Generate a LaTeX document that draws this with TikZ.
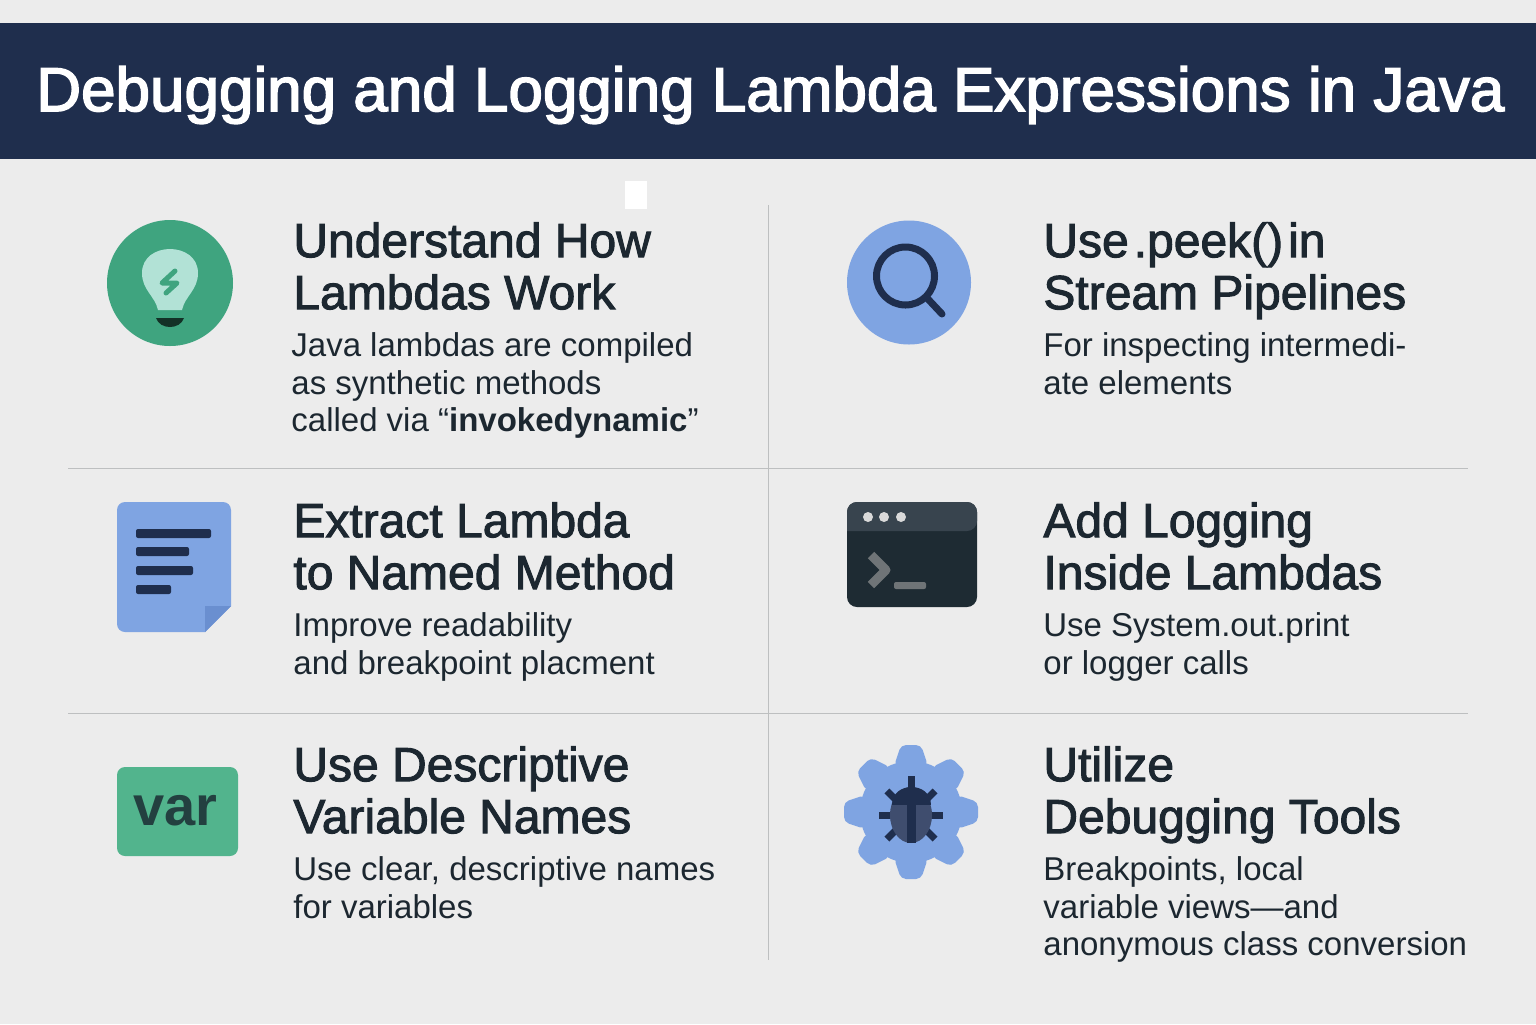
\documentclass[tikz,border=0pt]{standalone}
\usepackage{fontspec}
\setmainfont{Liberation Sans}
\newfontfamily\headfont[FakeBold=2]{Liberation Sans}
\newfontfamily\titlefont[FakeBold=2.5]{Liberation Sans}
\usetikzlibrary{positioning}
\definecolor{navy}{HTML}{1F2E4D}
\definecolor{paper}{HTML}{ECECEC}
\definecolor{ink}{HTML}{1C2730}
\definecolor{rule}{HTML}{BDBFC0}
\definecolor{iconblue}{HTML}{7FA4E2}
\definecolor{foldblue}{HTML}{6A8FD0}
\definecolor{icongreen}{HTML}{3FA47F}
\definecolor{tile}{HTML}{52B48D}
\definecolor{bulb}{HTML}{B2E2D6}
\definecolor{shell}{HTML}{1E2B33}
\definecolor{shellbar}{HTML}{38444E}
\definecolor{prompt}{HTML}{6F7477}
\definecolor{bugbody}{HTML}{3F4D6E}
\tikzstyle{heading} = [inner sep=0, anchor=north west, align=left, text=ink,
    execute at begin node=\strut, execute at end node=\strut,
    font=\headfont\fontsize{24}{26}\selectfont]
\tikzstyle{body} = [inner sep=0, anchor=north west, align=left, text=ink,
    execute at begin node=\strut, execute at end node=\strut,
    font=\fontsize{16.5}{18.75}\selectfont]
\tikzstyle{line} = [draw=rule, line width=0.5pt]
\tikzstyle{bar} = [fill=navy, rounded corners=1pt]
\begin{document}
\begin{tikzpicture}[x=0.5pt, y=-0.5pt]
    \useasboundingbox (0,0) rectangle (1536,1024);
    \fill [paper] (0,0) rectangle (1536,1024);
    \fill [navy] (0,23) rectangle (1536,159);
    \node [inner sep=0, text=white, font=\titlefont\fontsize{31}{32}\selectfont] (Title) at (770.5,95) {Debugging and Logging Lambda Expressions in Java};
    \fill [white] (625,181) rectangle (647,209);

    % rules
    \coordinate (RuleTop) at (768,205);
    \coordinate (RuleBottom) at (768,960);
    \coordinate (RuleA) at (68,468);
    \coordinate (RuleB) at (1468,468);
    \coordinate (RuleC) at (68,713);
    \coordinate (RuleD) at (1468,713);
    \path [line] (RuleTop) -- (RuleBottom);
    \path [line] (RuleA) -- (RuleB);
    \path [line] (RuleC) -- (RuleD);

    % left column
    \node [heading] (Understand) at (293,222) {Understand How\\Lambdas Work};
    \node [body, below=3.5pt of Understand.south west, anchor=north west, xshift=-1pt] (UnderstandText) {Java lambdas are compiled\\as synthetic methods\\called via “\textbf{invokedynamic}”};
    \node [heading] (Extract) at (293,502) {Extract Lambda\\to Named Method};
    \node [body, below=3.5pt of Extract.south west, anchor=north west] (ExtractText) {Improve readability\\and breakpoint placment};
    \node [heading] (Descriptive) at (293,746) {Use Descriptive\\Variable Names};
    \node [body, below=3.5pt of Descriptive.south west, anchor=north west] (DescriptiveText) {Use clear, descriptive names\\for variables};

    % right column
    \node [heading] (Peek) at (1043,222) {{\spaceskip=2.5pt Use .peek() in}\\Stream Pipelines};
    \node [body, below=3.5pt of Peek.south west, anchor=north west] (PeekText) {For inspecting intermedi-\\ate elements};
    \node [heading] (Logging) at (1043,502) {Add Logging\\Inside Lambdas};
    \node [body, below=3.5pt of Logging.south west, anchor=north west] (LoggingText) {Use System.out.print\\or logger calls};
    \node [heading] (Tools) at (1043,746) {Utilize\\Debugging Tools};
    \node [body, below=3.5pt of Tools.south west, anchor=north west] (ToolsText) {Breakpoints, local\\variable views—and\\anonymous class conversion};

    % bulb icon
    \fill [icongreen] (170,283) circle [radius=63];
    \fill [bulb] (158,310) .. controls (155,296) and (142,290) .. (142,273) .. controls (142,241) and (198,241) .. (198,273) .. controls (198,290) and (185,296) .. (182,310) -- cycle;
    \fill [black!70!icongreen] (156,318) -- (184,318) .. controls (180,330) and (160,330) .. (156,318) -- cycle;
    \draw [icongreen, line width=2.5pt, line join=round, line cap=round] (175,271) -- (162,283) -- (177,283) -- (166,293);

    % page icon
    \fill [iconblue] (231,606) -- (205,632) [rounded corners=4pt] -- (117,632) -- (117,502) -- (231,502) [sharp corners] -- cycle;
    \fill [foldblue] (205,606) -- (231,606) -- (205,632) -- cycle;
    \fill [bar] (136,529) rectangle (211,538);
    \fill [bar] (136,547) rectangle (189,556);
    \fill [bar] (136,566) rectangle (193,575);
    \fill [bar] (136,585) rectangle (171,594);

    % var icon
    \fill [tile, rounded corners=4pt] (117,767) rectangle (238,856);
    \node [inner sep=0, text=ink!80!icongreen, font=\bfseries\fontsize{28}{30}\selectfont] (Var) at (175.5,811) {var};

    % lens icon
    \fill [iconblue] (909,282.5) circle [radius=62];
    \draw [navy, line width=3.5pt] (905.5,276) circle [radius=29];
    \draw [navy, line width=3.5pt, line cap=round] (927,298) -- (942,314);

    % terminal icon
    \fill [shell, rounded corners=5pt] (847,502) rectangle (977,607);
    \fill [shellbar, rounded corners=5pt] (847,531) -- (847,502) -- (977,502) -- (977,531) [sharp corners] -- cycle;
    \foreach \x in {868,884,901}
        \fill [black!15] (\x,517) circle [radius=5];
    \draw [prompt, line width=4.5pt, line join=round] (871,555) -- (886,570) -- (871,585);
    \fill [prompt, rounded corners=1pt] (894,582) rectangle (926,589);

    % gear icon
    \begin{scope}[shift={(911,812)}]
        \fill [iconblue] (0,0) circle [radius=51];
        \foreach \a in {0,45,...,315}
            \fill [iconblue, rounded corners=2.5pt, rotate=\a] (-17,-46) -- (-10,-67) -- (10,-67) -- (17,-46) -- cycle;
        \foreach \a in {45,135,225,315}
            \draw [navy, line width=3.5pt, rotate around={\a:(0,3)}] (0,3) -- (0,-31);
        \draw [navy, line width=3.5pt] (0,3) -- (0,-36);
        \draw [navy, line width=3.5pt] (-32,3) -- (32,3);
        \fill [bugbody] (0,3) ellipse [x radius=21, y radius=28];
        \fill [navy] (-19.5,-7) .. controls (-19.5,-31) and (19.5,-31) .. (19.5,-7) -- cycle;
        \fill [navy] (-4.5,-7) rectangle (4.5,30.5);
    \end{scope}
\end{tikzpicture}
\end{document}
